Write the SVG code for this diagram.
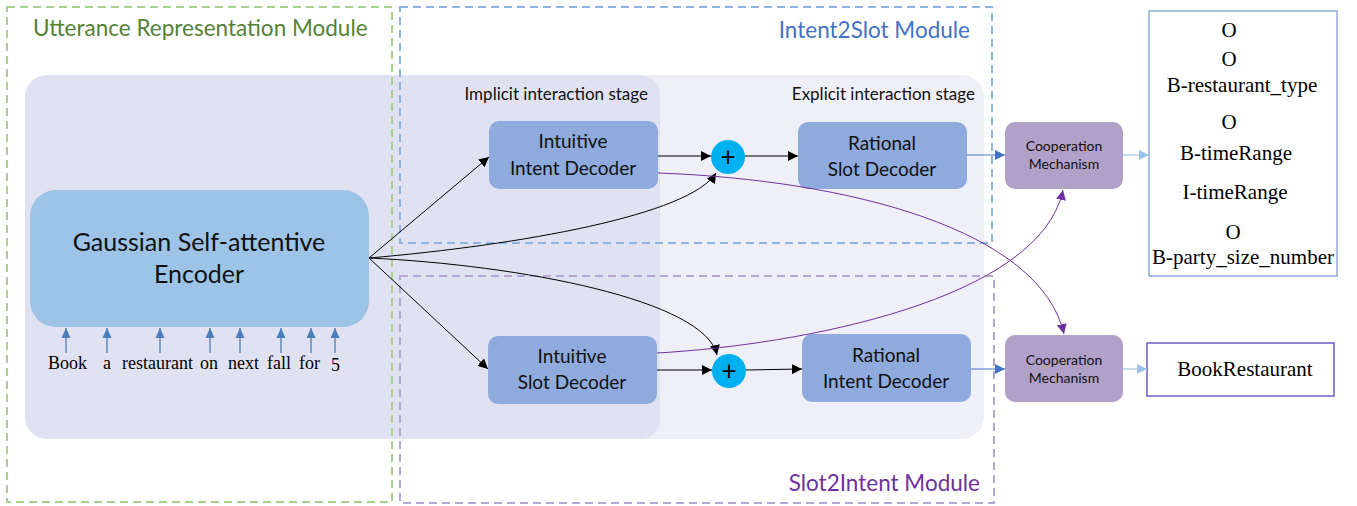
<svg xmlns="http://www.w3.org/2000/svg" width="1357" height="506" viewBox="0 0 1357 506">
<style>
.sans{font-family:Lato,"Open Sans","Liberation Sans",sans-serif}
.serif{font-family:"Liberation Serif","Times New Roman",serif;fill:#000}
.dec{fill:#8faadc}
.coop{fill:#b1a0c7}
.plus{fill:#00b0f0}
.dtxt{font-size:19px;fill:#111;text-anchor:middle}
.ctxt{font-size:14px;fill:#111;text-anchor:middle}
.ptxt{font-size:26px;fill:#000;text-anchor:middle}
.blk{stroke:#000;stroke-width:1;fill:none}
.pur{stroke:#7030a0;stroke-width:1;fill:none}
.word{font-size:18px}
.out{font-size:21px;text-anchor:middle}
</style>
<defs>
<marker id="ab" viewBox="0 0 10 10" refX="10" refY="5" markerWidth="10" markerHeight="10" markerUnits="userSpaceOnUse" orient="auto"><path d="M0,0 L10,5 L0,10 z" fill="#000"/></marker>
<marker id="ap" viewBox="0 0 10 10" refX="10" refY="5" markerWidth="10" markerHeight="10" markerUnits="userSpaceOnUse" orient="auto"><path d="M0,0 L10,5 L0,10 z" fill="#7030a0"/></marker>
<marker id="abl" viewBox="0 0 10 10" refX="10" refY="5" markerWidth="10" markerHeight="10" markerUnits="userSpaceOnUse" orient="auto"><path d="M0,0 L10,5 L0,10 z" fill="#4472c4"/></marker>
<marker id="alb" viewBox="0 0 10 10" refX="10" refY="5" markerWidth="10" markerHeight="10" markerUnits="userSpaceOnUse" orient="auto"><path d="M0,0 L10,5 L0,10 z" fill="#9dc3e6"/></marker>
<marker id="aw" viewBox="0 0 10 10" refX="10" refY="5" markerWidth="10" markerHeight="10" markerUnits="userSpaceOnUse" orient="auto"><path d="M0,0.5 L10,5 L0,9.5 z" fill="#4a7ebb"/></marker>
</defs>

<g id="stages">
<rect x="25" y="75" width="959" height="364" rx="22" fill="#efeff8"/>
<path d="M47,75 H640 A20,20 0 0 1 660,95 V419 A20,20 0 0 1 640,439 H47 A22,22 0 0 1 25,417 V97 A22,22 0 0 1 47,75 z" fill="#e0e2f1"/>
<text class="sans" x="648" y="100" font-size="17" text-anchor="end" fill="#111">Implicit interaction stage</text>
<text class="sans" x="975" y="100" font-size="17" text-anchor="end" fill="#111">Explicit interaction stage</text>
</g>

<g id="modules" fill="none" stroke-width="2" stroke-dasharray="8,5">
<rect x="7" y="7" width="385" height="495" stroke="#a9d18e"/>
<rect x="400" y="7" width="592" height="236" stroke="#8eb4e3"/>
<rect x="400" y="276" width="594" height="227" stroke="#b4a7d6"/>
</g>
<g id="module-labels" class="sans" font-size="22.5">
<text x="33" y="36" fill="#548235">Utterance Representation Module</text>
<text x="970" y="38" text-anchor="end" fill="#4472c4">Intent2Slot Module</text>
<text x="980" y="491" text-anchor="end" fill="#7030a0">Slot2Intent Module</text>
</g>

<g id="encoder">
<rect x="30" y="190" width="339" height="137" rx="26" fill="#9dc3e6"/>
<text class="sans" x="199" y="251" font-size="25" text-anchor="middle" fill="#111">Gaussian Self-attentive</text>
<text class="sans" x="199" y="283" font-size="25" text-anchor="middle" fill="#111">Encoder</text>
</g>

<g id="input-words" class="serif word">
<text x="48" y="369">Book</text>
<text x="103" y="369">a</text>
<text x="122" y="369">restaurant</text>
<text x="200" y="369">on</text>
<text x="228" y="369">next</text>
<text x="267" y="369">fall</text>
<text x="299" y="369">for</text>
<text x="331" y="371">5</text>
</g>

<g id="intuitive-intent-decoder">
<rect class="dec" x="489" y="121" width="169" height="68" rx="10"/>
<text class="sans dtxt" x="573" y="148">Intuitive</text>
<text class="sans dtxt" x="573" y="175">Intent Decoder</text>
</g>
<g id="plus-top">
<circle class="plus" cx="728" cy="157" r="17"/>
<text class="sans ptxt" x="728" y="166">+</text>
</g>
<g id="rational-slot-decoder">
<rect class="dec" x="798" y="122" width="169" height="67" rx="10"/>
<text class="sans dtxt" x="882" y="150">Rational</text>
<text class="sans dtxt" x="882" y="176">Slot Decoder</text>
</g>
<g id="coop-top">
<rect class="coop" x="1005" y="122" width="118" height="67" rx="10"/>
<text class="sans ctxt" x="1064" y="151">Cooperation</text>
<text class="sans ctxt" x="1064" y="169">Mechanism</text>
</g>
<g id="slot-output">
<rect x="1149" y="11" width="188" height="265" fill="#fff" stroke="#8eaadb" stroke-width="1.5"/>
<text class="serif out" x="1229" y="37">O</text>
<text class="serif out" x="1229" y="66">O</text>
<text class="serif out" x="1242" y="92">B-restaurant_type</text>
<text class="serif out" x="1229" y="129">O</text>
<text class="serif out" x="1236" y="160">B-timeRange</text>
<text class="serif out" x="1235" y="199">I-timeRange</text>
<text class="serif out" x="1233" y="239">O</text>
<text class="serif out" x="1243" y="264">B-party_size_number</text>
</g>

<g id="intuitive-slot-decoder">
<rect class="dec" x="488" y="336" width="169" height="68" rx="10"/>
<text class="sans dtxt" x="572" y="363">Intuitive</text>
<text class="sans dtxt" x="572" y="389">Slot Decoder</text>
</g>
<g id="plus-bottom">
<circle class="plus" cx="729" cy="371" r="17"/>
<text class="sans ptxt" x="729" y="380">+</text>
</g>
<g id="rational-intent-decoder">
<rect class="dec" x="802" y="334" width="169" height="68" rx="10"/>
<text class="sans dtxt" x="886" y="362">Rational</text>
<text class="sans dtxt" x="886" y="388">Intent Decoder</text>
</g>
<g id="coop-bottom">
<rect class="coop" x="1005" y="335" width="118" height="67" rx="10"/>
<text class="sans ctxt" x="1064" y="365">Cooperation</text>
<text class="sans ctxt" x="1064" y="383">Mechanism</text>
</g>
<g id="intent-output">
<rect x="1147" y="343" width="187" height="53" fill="#fff" stroke="#6f5fc6" stroke-width="1.5"/>
<text class="serif out" x="1245" y="376">BookRestaurant</text>
</g>

<g id="connectors">
<g stroke="#4a7ebb" stroke-width="1.3" marker-end="url(#aw)">
<line x1="66" y1="353" x2="66" y2="328"/>
<line x1="107" y1="353" x2="107" y2="328"/>
<line x1="160" y1="353" x2="160" y2="328"/>
<line x1="210" y1="353" x2="210" y2="328"/>
<line x1="240" y1="353" x2="240" y2="328"/>
<line x1="281" y1="353" x2="281" y2="328"/>
<line x1="311" y1="353" x2="311" y2="328"/>
<line x1="335" y1="353" x2="335" y2="328"/>
</g>
<line class="blk" x1="369" y1="258" x2="489" y2="157" marker-end="url(#ab)"/>
<line class="blk" x1="369" y1="258" x2="488" y2="369" marker-end="url(#ab)"/>
<path class="blk" d="M369,258 C520,245 690,215 716,173" marker-end="url(#ab)"/>
<path class="blk" d="M369,258 C520,265 705,300 717,355" marker-end="url(#ab)"/>
<line class="blk" x1="658" y1="156" x2="711" y2="156" marker-end="url(#ab)"/>
<line class="blk" x1="745" y1="156" x2="798" y2="156" marker-end="url(#ab)"/>
<line class="blk" x1="657" y1="370" x2="712" y2="370" marker-end="url(#ab)"/>
<line class="blk" x1="746" y1="370" x2="802" y2="369" marker-end="url(#ab)"/>
<path class="pur" d="M658,173 C850,180 1040,230 1064,334" marker-end="url(#ap)"/>
<path class="pur" d="M657,353 C800,345 1040,300 1063,190" marker-end="url(#ap)"/>
<line x1="967" y1="155" x2="1005" y2="155" stroke="#4472c4" stroke-width="1.2" marker-end="url(#abl)"/>
<line x1="1123" y1="155" x2="1149" y2="155" stroke="#9dc3e6" stroke-width="1.2" marker-end="url(#alb)"/>
<line x1="971" y1="369" x2="1005" y2="369" stroke="#4472c4" stroke-width="1.2" marker-end="url(#abl)"/>
<line x1="1123" y1="369" x2="1147" y2="369" stroke="#9dc3e6" stroke-width="1.2" marker-end="url(#alb)"/>
</g>
</svg>
